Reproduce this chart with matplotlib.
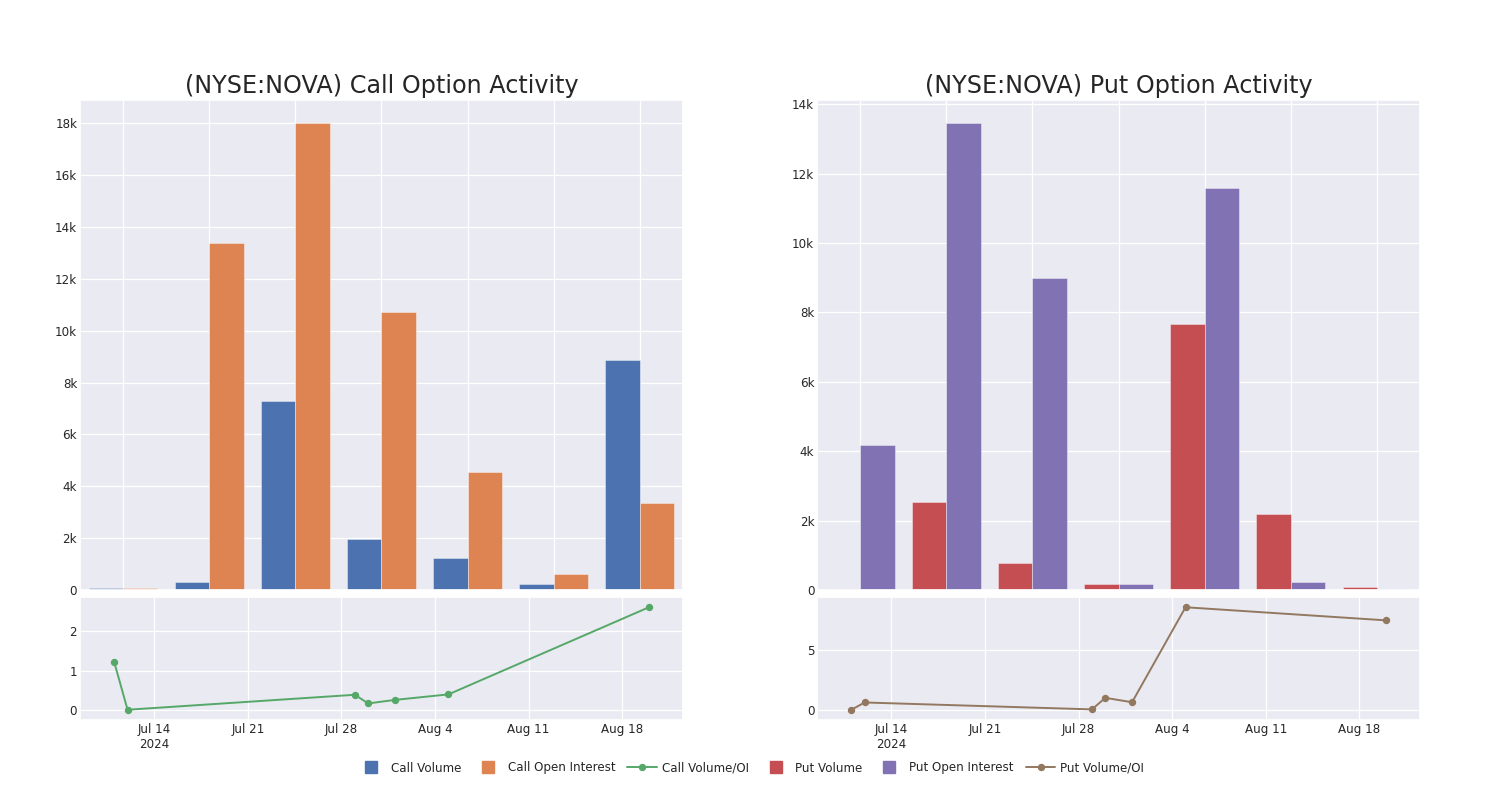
import numpy as np
import pandas as pd
import matplotlib
matplotlib.use('Agg')
import matplotlib.pyplot as plt
import seaborn as sns
from matplotlib.lines import Line2D
from matplotlib.ticker import FuncFormatter, MultipleLocator

# Data
dates = pd.to_datetime(['2024-07-11', '2024-07-12', '2024-07-29', '2024-07-30',
                        '2024-08-01', '2024-08-05', '2024-08-20'])
call_volume = [80, 310, 7280, 1975, 1240, 230, 8865]
call_oi = [65, 13395, 18000, 10724, 4568, 620, 3368]
call_ratio = [1.22, 0.01, 0.39, 0.17, 0.26, 0.40, 2.61]
put_volume = [30, 2540, 780, 175, 7680, 2195, 90]
put_oi = [4190, 13450, 8980, 175, 11580, 235, 25]
put_ratio = [0.0, 0.61, 0.03, 1.0, 0.63, 8.6, 7.5]

tick_dates = pd.to_datetime(['2024-07-14', '2024-07-21', '2024-07-28',
                             '2024-08-04', '2024-08-11', '2024-08-18'])
tick_labels = ['Jul 14\n2024', 'Jul 21', 'Jul 28', 'Aug 4', 'Aug 11', 'Aug 18']

sns.set_theme(style='darkgrid')
plt.rcParams['font.family'] = ['DejaVu Sans']
pal = sns.color_palette('deep')
c_blue, c_orange, c_green, c_red, c_purple, c_brown = pal[0], pal[1], pal[2], pal[3], pal[4], pal[5]

FS = 8.6
fig = plt.figure(figsize=(15, 8), dpi=100)


def k_fmt(v, pos):
    if v == 0:
        return '0'
    return f'{int(round(v / 1000))}k'


def draw_panel(left, title, vol, oi, ratio, c_vol, c_oi, c_line, ratio_ticks):
    ax_bar = fig.add_axes([left, 0.2625, 0.402, 0.6125])
    ax_line = fig.add_axes([left, 0.1, 0.402, 0.15375])

    x = np.arange(len(vol))
    w = 0.4
    edge = (1, 1, 1, 0.55)
    ax_bar.bar(x - w / 2, vol, width=w, color=c_vol, edgecolor=edge, linewidth=0.5)
    ax_bar.bar(x + w / 2, oi, width=w, color=c_oi, edgecolor=edge, linewidth=0.5)
    ax_bar.set_xlim(-0.5, len(vol) - 0.5)
    ax_bar.set_xticks(x)
    ax_bar.set_xticklabels([])
    ax_bar.yaxis.set_major_locator(MultipleLocator(2000))
    ax_bar.yaxis.set_major_formatter(FuncFormatter(k_fmt))
    ax_bar.tick_params(axis='both', labelsize=FS, pad=2, length=0)
    ax_bar.set_title(title, fontsize=17.2, pad=5, color='#262626')

    ax_line.plot(dates, ratio, color=c_line, marker='o', markersize=4.3, linewidth=1.4)
    ax_line.set_xlim(pd.Timestamp('2024-07-08 10:30'), pd.Timestamp('2024-08-22 13:00'))
    ax_line.margins(y=0.1)
    ax_line.set_xticks(tick_dates)
    ax_line.set_xticklabels(tick_labels)
    ax_line.set_yticks(ratio_ticks)
    ax_line.tick_params(axis='both', labelsize=FS, pad=2, length=0)
    for a in (ax_bar, ax_line):
        a.grid(True, color='white', linewidth=0.9)
    return ax_bar, ax_line


draw_panel(0.0533, '(NYSE:NOVA) Call Option Activity', call_volume, call_oi, call_ratio,
           c_blue, c_orange, c_green, [0, 1, 2])
draw_panel(0.5447, '(NYSE:NOVA) Put Option Activity', put_volume, put_oi, put_ratio,
           c_red, c_purple, c_brown, [0, 5])

handles = [
    Line2D([], [], color=c_blue, marker='s', linestyle='None', markersize=8.5),
    Line2D([], [], color=c_orange, marker='s', linestyle='None', markersize=8.5),
    Line2D([], [], color=c_green, marker='o', markersize=4.3, linewidth=1.4),
    Line2D([], [], color=c_red, marker='s', linestyle='None', markersize=8.5),
    Line2D([], [], color=c_purple, marker='s', linestyle='None', markersize=8.5),
    Line2D([], [], color=c_brown, marker='o', markersize=4.3, linewidth=1.4),
]
labels = ['Call Volume', 'Call Open Interest', 'Call Volume/OI',
          'Put Volume', 'Put Open Interest', 'Put Volume/OI']
fig.legend(handles, labels, loc='center', bbox_to_anchor=(0.5, 0.04), ncol=6,
           frameon=False, fontsize=FS, handlelength=2.5, handletextpad=0.4,
           columnspacing=1.0)

fig.savefig('out.png', dpi=100, facecolor='white')
